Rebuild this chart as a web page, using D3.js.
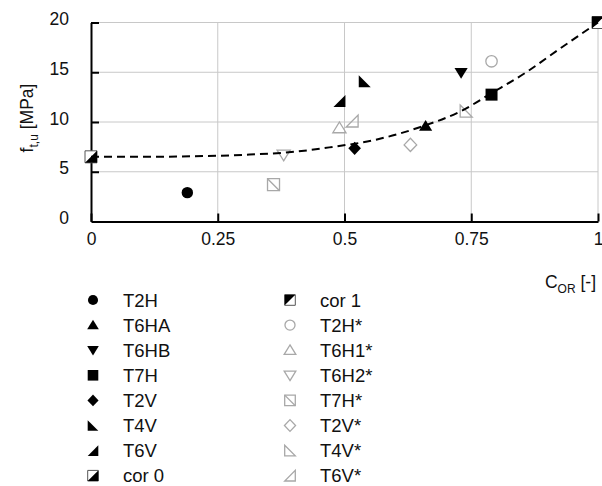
<!DOCTYPE html>
<html>
<head>
<meta charset="utf-8">
<script src="https://cdn.jsdelivr.net/npm/d3@7"></script>
<style>
  html, body { margin: 0; padding: 0; background: #fff; }
  svg text { font-family: "Liberation Sans", Arial, Helvetica, sans-serif; fill: #111; }
</style>
</head>
<body>
<svg id="chart" width="602" height="486"></svg>
<script>
// Specimen series: one measured point each (degree of corrosion vs. tensile strength)
const seriesNames = ["T2H", "T6HA", "T6HB", "T7H", "T2V", "T4V", "T6V", "cor 0",
                     "cor 1", "T2H*", "T6H1*", "T6H2*", "T7H*", "T2V*", "T4V*", "T6V*"];
const seriesShapes = ["circle", "triUp", "triDown", "square", "diamond", "rtBL", "rtBR", "halfBR",
                      "halfTL", "circle", "triUp", "triDown", "squareDiag", "diamond", "rtBL", "rtBR"];
const seriesFilled = [true, true, true, true, true, true, true, true,
                      true, false, false, false, false, false, false, false];
const corValues = [0.19, 0.66, 0.73, 0.79, 0.52, 0.54, 0.49, 0.0,
                   1.0, 0.79, 0.49, 0.38, 0.36, 0.63, 0.74, 0.515];
const strengthValues = [2.9, 9.6, 14.95, 12.75, 7.35, 14.1, 12.1, 6.5,
                        20.0, 16.1, 9.4, 6.7, 3.7, 7.7, 11.1, 10.1];

// Fitted trend curve (dashed)
const fitX = [0, 0.1, 0.2, 0.3, 0.4, 0.47, 0.56, 0.65, 0.73, 0.79, 0.86, 0.92, 1.0];
const fitY = [6.5, 6.5, 6.55, 6.7, 7.0, 7.45, 8.2, 9.5, 11.1, 12.9, 15.05, 17.2, 20.0];

const xTicks = [0, 0.25, 0.5, 0.75, 1];
const xTickLabels = ["0", "0.25", "0.5", "0.75", "1"];
const yTicks = [0, 5, 10, 15, 20];

const svg = d3.select("#chart");
const x = d3.scaleLinear().domain([0, 1]).range([91, 598]);
const y = d3.scaleLinear().domain([0, 20]).range([221.5, 22.5]);

// grid
const grid = svg.append("g");
grid.selectAll("line.gy").data(yTicks.filter(d => d > 0)).join("line")
  .attr("x1", x(0)).attr("x2", x(1))
  .attr("y1", d => y(d)).attr("y2", d => y(d))
  .attr("stroke", "#c8c8c8").attr("stroke-width", 1);
grid.selectAll("line.gx").data(xTicks.filter(d => d > 0)).join("line")
  .attr("x1", d => x(d)).attr("x2", d => x(d))
  .attr("y1", y(0)).attr("y2", y(20))
  .attr("stroke", "#c8c8c8").attr("stroke-width", 1);

// axes
const xAxis = d3.axisBottom(x).tickValues(xTicks).tickSizeInner(-8).tickSizeOuter(0)
  .tickFormat((d, i) => xTickLabels[i]).tickPadding(20);
const gx = svg.append("g").attr("transform", `translate(0,${y(0)})`).call(xAxis);
gx.select(".domain").attr("stroke", "#000").attr("stroke-width", 2);
gx.selectAll(".tick line").attr("stroke", "#000").attr("stroke-width", 2);
gx.selectAll(".tick text").attr("font-size", 17.5).attr("dy", "0.2em");

const yAxis = d3.axisLeft(y).tickValues(yTicks).tickSizeInner(-8).tickSizeOuter(0).tickPadding(22);
const gy = svg.append("g").attr("transform", `translate(${x(0)},0)`).call(yAxis);
gy.select(".domain").attr("stroke", "#000").attr("stroke-width", 2);
gy.selectAll(".tick line").attr("stroke", "#000").attr("stroke-width", 2);
gy.selectAll(".tick text").attr("font-size", 17.5).attr("dy", "0.12em");
gy.selectAll(".tick").filter(d => d === 0).select("line").remove();
svg.selectAll(".tick text").style("font-family", "'Liberation Sans', Arial, sans-serif").attr("fill", "#111");

// axis titles
const yTitle = svg.append("text")
  .attr("transform", "translate(33,118) rotate(-90)")
  .attr("text-anchor", "middle").attr("font-size", 17.5);
yTitle.append("tspan").text("f");
yTitle.append("tspan").attr("font-size", 12).attr("dy", 5).text("t,u");
yTitle.append("tspan").attr("dy", -5).text(" [MPa]");

const xTitle = svg.append("text")
  .attr("x", 596).attr("y", 288).attr("text-anchor", "end").attr("font-size", 17.5);
xTitle.append("tspan").text("C");
xTitle.append("tspan").attr("font-size", 12).attr("dy", 5).text("OR");
xTitle.append("tspan").attr("dy", -5).text(" [-]");

// marker geometry
function shapePaths(shape, h) {
  const sq = `M${-h},${-h}H${h}V${h}H${-h}Z`;
  switch (shape) {
    case "circle": return [{ d: d3.path().toString(), circle: true }];
    case "triUp": return [{ d: `M0,${-h}L${h * 1.1},${h * 0.8}L${-h * 1.1},${h * 0.8}Z` }];
    case "triDown": return [{ d: `M0,${h}L${h * 1.1},${-h * 0.8}L${-h * 1.1},${-h * 0.8}Z` }];
    case "square": return [{ d: sq }];
    case "squareDiag": return [{ d: sq }, { d: `M${-h},${-h}L${h},${h}`, line: true }];
    case "diamond": return [{ d: `M0,${-h * 1.1}L${h * 1.05},0L0,${h * 1.1}L${-h * 1.05},0Z` }];
    case "rtBL": return [{ d: `M${-h},${-h}L${h},${h}L${-h},${h}Z` }];
    case "rtBR": return [{ d: `M${h},${-h}L${h},${h}L${-h},${h}Z` }];
    case "halfBR": return [{ d: sq, outline: true }, { d: `M${h},${-h}L${h},${h}L${-h},${h}Z` }];
    case "halfTL": return [{ d: sq, outline: true }, { d: `M${-h},${-h}L${h},${-h}L${-h},${h}Z` }];
  }
}

function drawMarker(g, shape, filled, h) {
  const parts = shapePaths(shape, h);
  parts.forEach(p => {
    if (p.circle) {
      g.append("circle").attr("r", h * 0.95)
        .attr("fill", filled ? "#000" : "#fff")
        .attr("stroke", filled ? "#000" : "#a8a8a8").attr("stroke-width", filled ? 0 : 1.3);
      return;
    }
    const el = g.append("path").attr("d", p.d);
    if (p.outline) {
      el.attr("fill", "#fff").attr("stroke", "#555").attr("stroke-width", 1);
    } else if (p.line) {
      el.attr("fill", "none").attr("stroke", "#a8a8a8").attr("stroke-width", 1.3);
    } else if (filled) {
      el.attr("fill", "#000").attr("stroke", "none");
    } else {
      el.attr("fill", "none").attr("stroke", "#a8a8a8").attr("stroke-width", 1.3);
    }
  });
}

// points: open markers first, filled on top
const order = d3.range(seriesNames.length).sort((a, b) => seriesFilled[a] - seriesFilled[b]);
const pts = svg.append("g");
order.forEach(i => {
  const g = pts.append("g").attr("transform", `translate(${x(corValues[i])},${y(strengthValues[i])})`);
  drawMarker(g, seriesShapes[i], seriesFilled[i], 6);
});

// dashed trend
const fitPts = fitX.map((d, i) => [d, fitY[i]]);
svg.append("path")
  .datum(fitPts)
  .attr("d", d3.line().x(d => x(d[0])).y(d => y(d[1])).curve(d3.curveMonotoneX))
  .attr("fill", "none").attr("stroke", "#000").attr("stroke-width", 2)
  .attr("stroke-dasharray", "8,5");

// legend: two columns of eight
const legend = svg.append("g");
seriesNames.forEach((name, i) => {
  const col = Math.floor(i / 8), row = i % 8;
  const lx = col === 0 ? 93 : 290;
  const ly = 300 + row * 25.1;
  const g = legend.append("g").attr("transform", `translate(${lx},${ly})`);
  drawMarker(g, seriesShapes[i], seriesFilled[i], 5.3);
  legend.append("text").attr("x", lx + 30).attr("y", ly + 6.6)
    .attr("font-size", 18.5).text(name);
});
</script>
</body>
</html>
